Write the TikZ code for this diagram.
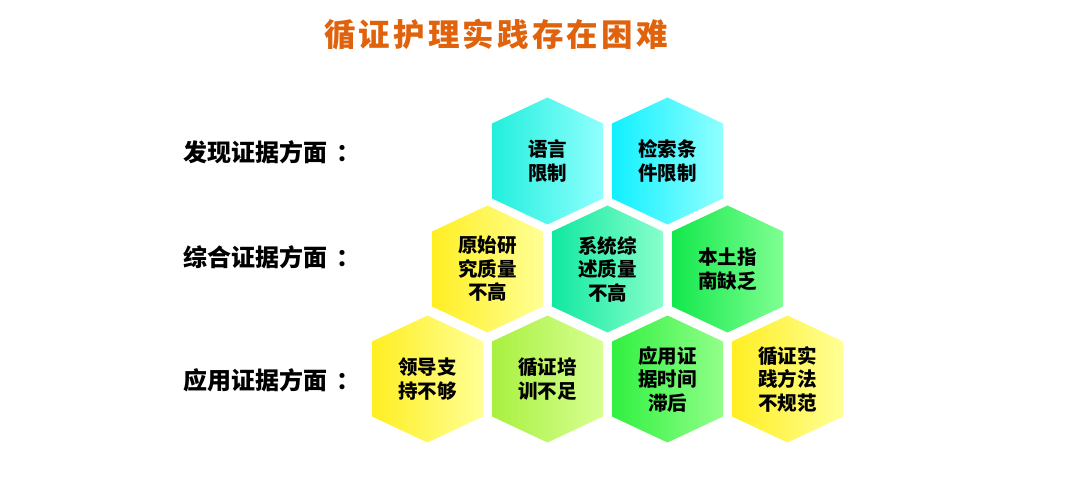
\documentclass[tikz,border=0pt]{standalone}
\usepackage{fontspec}
\usepackage{xcolor}
\usepackage{tikz}
\usetikzlibrary{positioning}
\newfontfamily\cjk{Noto Sans CJK SC}
\newfontfamily\titlecjk[LetterSpace=10]{Noto Sans CJK SC}
\definecolor{titleorange}{HTML}{E0620C}
\definecolor{aquaL}{HTML}{22EFDC}
\definecolor{cyanL}{HTML}{10F0FF}
\definecolor{cyanR}{HTML}{90FFFF}
\definecolor{yelL}{HTML}{FFEE22}
\definecolor{yelR}{HTML}{FFFF96}
\definecolor{tealL}{HTML}{10E8A0}
\definecolor{tealR}{HTML}{88FFCC}
\definecolor{grnL}{HTML}{12E84C}
\definecolor{grnR}{HTML}{80FF92}
\definecolor{limeL}{HTML}{A8F040}
\definecolor{limeR}{HTML}{D8FF92}
\definecolor{grn2L}{HTML}{30F040}
\definecolor{grn2R}{HTML}{92FF8A}
% one hexagon cell: name, x, y, left colour, right colour, text
\newcommand{\hexcell}[6]{%
  \shade[left color=#4, right color=#5] (#2,#3) ++(0,-63.5) -- ++(55.5,26) -- ++(0,75)
    -- ++(-55.5,26) -- ++(-55.5,-26) -- ++(0,-75) -- cycle;
  \node[cell] (#1) at (#2,#3) {#6};
}
\newcommand{\colonmark}{\kern9pt：}

\begin{document}
\begin{tikzpicture}[
  x=1pt, y=-1pt,
  title/.style={font=\titlecjk\bfseries\fontsize{31.5}{34}\selectfont, text=titleorange, inner sep=0pt},
  rowlabel/.style={font=\cjk\bfseries\fontsize{24}{28}\selectfont, anchor=west, inner sep=0pt},
  cell/.style={font=\cjk\bfseries\fontsize{19.5}{23.5}\selectfont, align=center, inner sep=0pt},
]
\useasboundingbox (0,0) rectangle (1080,494);

% ---------------- title ----------------
\node[title] (head) at (496,35) {循证护理实践存在困难};

% ---------------- row labels ----------------
\node[rowlabel] (lfind) at (183,152) {发现证据方面\colonmark};
\node[rowlabel] (lsyn)  at (183,257) {综合证据方面\colonmark};
\node[rowlabel] (luse)  at (183,380) {应用证据方面\colonmark};

% ---------------- row 1 ----------------
\hexcell{h11}{547.5}{161}{aquaL}{cyanR}{语言\\限制}
\hexcell{h12}{667.5}{161}{cyanL}{cyanR}{检索条\\件限制}

% ---------------- row 2 ----------------
\hexcell{h21}{487.5}{269}{yelL}{yelR}{原始研\\究质量\\不高}
\hexcell{h22}{607.5}{269}{tealL}{tealR}{系统综\\述质量\\不高}
\hexcell{h23}{727.5}{269}{grnL}{grnR}{本土指\\南缺乏}

% ---------------- row 3 ----------------
\hexcell{h31}{427.5}{379}{yelL}{yelR}{领导支\\持不够}
\hexcell{h32}{547.5}{379}{limeL}{limeR}{循证培\\训不足}
\hexcell{h33}{667.5}{379}{grn2L}{grn2R}{应用证\\据时间\\滞后}
\hexcell{h34}{787.5}{379}{yelL}{yelR}{循证实\\践方法\\不规范}
\end{tikzpicture}
\end{document}
